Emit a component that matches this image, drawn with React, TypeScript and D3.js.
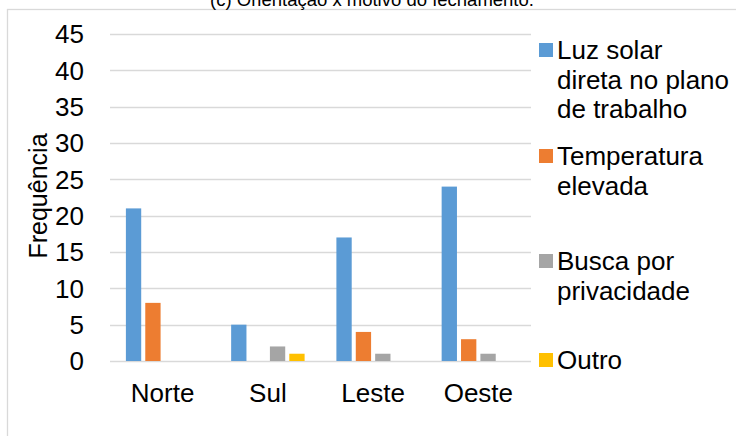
import React, { useEffect, useRef } from 'react';
import * as d3 from 'd3';

const CATEGORIES = ['Norte', 'Sul', 'Leste', 'Oeste'];

const SERIES_NAMES = [
  'Luz solar direta no plano de trabalho',
  'Temperatura elevada',
  'Busca por privacidade',
  'Outro'
];

// legend labels are wrapped like in the original
const LEGEND_LINES = [
  ['Luz solar', 'direta no plano', 'de trabalho'],
  ['Temperatura', 'elevada'],
  ['Busca por', 'privacidade'],
  ['Outro']
];

const LUZ_SOLAR = [21, 5, 17, 24];
const TEMPERATURA = [8, 0, 4, 3];
const PRIVACIDADE = [0, 2, 1, 1];
const OUTRO = [0, 1, 0, 0];

const Y_TICKS = [0, 5, 10, 15, 20, 25, 30, 35, 40, 45];

const COLORS = ['#5B9BD5', '#ED7D31', '#A5A5A5', '#FFC000'];

const FONT = '"Liberation Sans", Arial, sans-serif';

const App: React.FC = () => {
  const svgRef = useRef<SVGSVGElement>(null);

  useEffect(() => {
    if (!svgRef.current) {
      return;
    }
    const svg = d3.select(svgRef.current);
    svg.selectAll('*').remove();

    const values = [LUZ_SOLAR, TEMPERATURA, PRIVACIDADE, OUTRO];

    // chart area frame (runs off the right and bottom edge)
    svg
      .append('rect')
      .attr('x', 7.5)
      .attr('y', 9.5)
      .attr('width', 900)
      .attr('height', 600)
      .attr('fill', '#ffffff')
      .attr('stroke', '#D9D9D9')
      .attr('stroke-width', 1.3);

    // title, mostly cropped at the top
    svg
      .append('text')
      .attr('x', 372)
      .attr('y', 6)
      .attr('text-anchor', 'middle')
      .attr('font-family', FONT)
      .attr('font-size', '18.5px')
      .attr('fill', '#000')
      .text('(c)  Orientação x motivo do fechamento.');

    const x = d3.scaleBand<string>().domain(CATEGORIES).range([110, 531]);
    const xInner = d3
      .scaleBand<string>()
      .domain(SERIES_NAMES)
      .range([0, x.bandwidth()])
      .paddingInner(0.21)
      .paddingOuter(0.82);
    const y = d3.scaleLinear().domain([0, 45]).range([361, 34]);

    // gridlines
    svg
      .append('g')
      .selectAll('line')
      .data(Y_TICKS)
      .enter()
      .append('line')
      .attr('x1', 110)
      .attr('x2', 531)
      .attr('y1', (d) => Math.round(y(d)) + 0.5)
      .attr('y2', (d) => Math.round(y(d)) + 0.5)
      .attr('stroke', '#D9D9D9')
      .attr('stroke-width', 1.3);

    // y tick labels
    svg
      .append('g')
      .selectAll('text')
      .data(Y_TICKS)
      .enter()
      .append('text')
      .attr('x', 84)
      .attr('y', (d) => y(d))
      .attr('dy', '0.36em')
      .attr('text-anchor', 'end')
      .attr('font-family', FONT)
      .attr('font-size', '26px')
      .attr('fill', '#000')
      .text((d) => String(d));

    // y axis title
    svg
      .append('text')
      .attr('transform', 'translate(47, 196) rotate(-90)')
      .attr('text-anchor', 'middle')
      .attr('font-family', FONT)
      .attr('font-size', '25px')
      .attr('fill', '#000')
      .text('Frequência');

    // bars
    SERIES_NAMES.forEach((name, si) => {
      svg
        .append('g')
        .selectAll('rect')
        .data(CATEGORIES.map((c, ci) => ({ category: c, value: values[si][ci] })))
        .enter()
        .filter((d) => d.value > 0)
        .append('rect')
        .attr('x', (d) => (x(d.category) ?? 0) + (xInner(name) ?? 0))
        .attr('y', (d) => y(d.value))
        .attr('width', xInner.bandwidth())
        .attr('height', (d) => y(0) - y(d.value))
        .attr('fill', COLORS[si]);
    });

    // x labels
    svg
      .append('g')
      .selectAll('text')
      .data(CATEGORIES)
      .enter()
      .append('text')
      .attr('x', (d) => (x(d) ?? 0) + x.bandwidth() / 2)
      .attr('y', 402)
      .attr('text-anchor', 'middle')
      .attr('font-family', FONT)
      .attr('font-size', '26px')
      .attr('fill', '#000')
      .text((d) => d);

    // legend
    const legendTops = [50, 156, 261, 360];
    LEGEND_LINES.forEach((lines, i) => {
      const g = svg.append('g').attr('transform', `translate(539, ${legendTops[i]})`);
      g.append('rect')
        .attr('x', 0)
        .attr('y', -7)
        .attr('width', 14)
        .attr('height', 14)
        .attr('fill', COLORS[i]);
      lines.forEach((line, li) => {
        g.append('text')
          .attr('x', 18)
          .attr('y', li * 29.5)
          .attr('dy', '0.36em')
          .attr('font-family', FONT)
          .attr('font-size', '26px')
          .attr('fill', '#000')
          .text(line);
      });
    });
  }, []);

  return (
    <svg
      ref={svgRef}
      width={736}
      height={436}
      style={{ position: 'absolute', left: 0, top: 0, display: 'block', background: '#fff' }}
    />
  );
};

export default App;
